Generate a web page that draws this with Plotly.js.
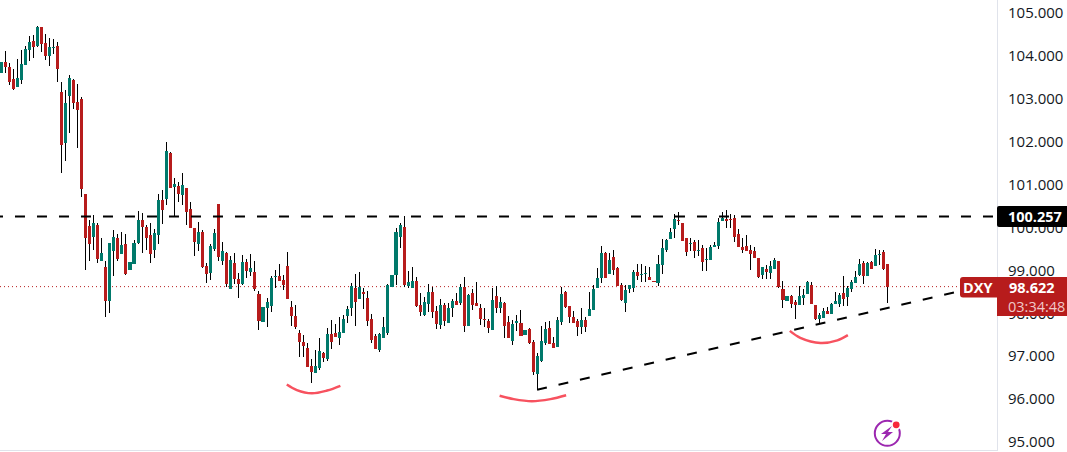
<!DOCTYPE html>
<html><head><meta charset="utf-8">
<script src="https://cdn.plot.ly/plotly-3.0.1.min.js"></script>
<style>html,body{margin:0;padding:0;background:#fff;overflow:hidden}#c{width:1067px;height:452px}</style>
</head><body><div id="c"></div>
<script>
const opens=[103.61,103.86,103.74,103.46,103.28,103.43,103.78,104.14,104.35,104.23,104.68,104.30,104.00,104.19,104.23,103.16,101.97,103.07,103.44,102.93,
103.00,100.78,100.04,99.78,100.06,99.22,99.08,98.29,99.46,99.76,99.39,99.62,99.01,99.15,99.64,100.18,100.02,99.83,99.48,99.83,
100.64,100.67,101.74,100.95,100.97,100.76,100.92,100.43,99.99,99.62,99.90,99.11,98.94,99.50,100.55,99.22,99.41,98.57,99.18,98.80,
98.68,99.20,98.96,98.96,98.45,97.80,98.12,98.17,98.85,98.87,98.78,99.10,98.15,97.94,97.54,97.33,97.19,96.77,96.61,96.72,
97.07,96.93,97.52,97.54,97.42,97.54,97.94,98.12,98.59,98.33,98.50,98.36,97.87,97.47,97.14,97.42,97.54,98.61,98.89,99.78,
100.01,98.64,98.59,98.75,98.19,97.96,98.22,98.50,98.05,97.73,98.19,97.77,98.12,98.29,98.24,98.61,97.70,98.47,98.24,98.12,
97.87,97.82,97.61,98.40,98.12,98.24,97.80,97.35,97.77,97.77,97.49,97.63,97.33,96.58,96.89,97.31,97.66,97.31,97.21,97.80,
98.50,98.17,97.91,97.82,97.68,97.84,97.94,98.08,98.59,98.82,99.40,98.92,99.31,99.06,98.66,98.24,98.57,98.59,98.96,98.89,
98.92,98.85,98.75,98.71,99.13,99.47,99.73,99.96,100.17,100.10,99.75,99.61,99.66,99.45,99.52,99.24,99.24,99.54,99.57,100.15,
100.20,100.20,100.22,99.85,99.54,99.57,99.47,99.45,99.29,98.89,99.03,98.94,99.03,99.22,98.57,98.29,98.40,98.26,98.19,98.36,
98.45,98.66,98.19,97.87,97.89,98.05,97.98,98.22,98.22,98.47,98.38,98.57,98.71,98.89,99.17,98.87,99.20,99.10,99.36,99.43,99.15];
const highs=[104.09,104.12,103.83,103.69,103.93,104.14,104.23,104.47,104.49,104.70,104.68,104.51,104.42,104.40,104.33,103.39,103.21,103.56,103.46,103.35,
103.05,100.78,100.18,100.29,100.11,99.76,99.22,99.64,99.95,99.85,99.90,99.85,99.39,99.71,100.39,100.34,100.06,100.11,99.97,100.78,
100.88,102.00,101.76,101.16,101.06,101.27,100.92,100.60,99.99,100.13,99.95,99.18,99.62,99.97,100.55,99.67,99.43,99.34,99.41,98.94,
99.36,99.27,99.38,99.22,98.52,98.59,98.36,98.87,99.01,99.15,98.89,99.43,98.29,98.19,97.61,97.49,97.31,96.93,97.14,97.42,
97.10,97.66,97.84,97.75,97.91,97.96,98.17,98.71,98.92,98.96,98.59,98.52,97.98,97.52,97.54,97.91,98.68,99.15,99.99,100.10,
100.27,98.99,99.08,98.85,98.47,98.38,98.68,98.61,98.17,98.33,98.24,98.24,98.33,98.47,98.68,98.85,98.45,98.57,98.73,98.22,
98.12,97.87,98.59,98.64,98.38,98.26,97.94,97.84,97.96,98.08,97.87,97.66,97.38,97.07,97.70,97.80,97.82,97.45,97.91,98.61,
98.52,98.17,98.05,97.87,98.12,97.91,98.50,98.66,99.06,99.57,99.43,99.40,99.47,99.08,98.71,98.66,98.66,99.01,99.15,99.15,
99.10,99.08,98.99,99.36,99.73,99.73,99.99,100.31,100.36,100.10,99.75,99.75,99.71,99.71,99.59,99.52,99.59,99.66,100.22,100.36,
100.41,100.31,100.29,99.96,99.75,99.82,99.59,99.54,99.29,99.08,99.13,99.22,99.29,99.22,98.75,98.59,98.43,98.31,98.64,98.57,
98.75,98.73,98.19,98.01,98.12,98.15,98.24,98.50,98.47,98.87,98.64,98.78,98.99,99.26,99.22,99.20,99.22,99.50,99.47,99.47,99.15];
const lows=[103.53,103.59,103.32,103.21,103.28,103.35,103.78,103.87,103.96,104.21,104.09,103.91,103.77,104.05,103.39,101.27,101.55,102.21,102.77,101.86,
100.71,99.01,99.22,99.48,99.18,99.22,97.92,98.01,98.87,99.22,99.39,98.90,98.94,99.15,99.62,99.41,99.48,99.18,99.29,99.62,
100.09,100.53,100.92,100.27,100.60,100.53,100.06,99.99,99.34,99.46,99.06,98.71,98.78,99.46,99.22,99.13,98.62,98.57,98.69,98.36,
98.66,98.82,98.87,98.52,97.61,97.61,97.68,98.03,98.59,98.75,98.54,98.33,97.70,97.63,96.98,96.98,96.75,96.37,96.61,96.68,
96.86,96.89,97.17,97.45,97.26,97.54,97.77,97.94,97.70,98.33,98.10,97.70,97.31,97.17,97.10,97.42,97.49,98.59,98.66,99.52,
98.61,98.59,98.59,98.15,97.94,97.94,98.03,97.89,97.63,97.63,97.70,97.77,97.91,98.19,98.19,97.56,97.70,98.08,98.17,97.73,
97.68,97.54,97.61,98.01,98.01,97.42,97.42,97.26,97.59,97.47,97.49,97.28,96.56,96.21,96.86,97.26,97.28,97.19,97.21,97.73,
98.12,97.77,97.77,97.47,97.52,97.56,97.94,98.08,98.59,98.71,98.82,98.92,98.89,98.64,98.29,98.03,98.47,98.50,98.78,98.73,
98.73,98.78,98.57,98.64,98.92,99.43,99.73,99.75,100.06,99.68,99.33,99.45,99.29,99.33,98.99,98.99,99.24,99.54,99.50,100.15,
99.99,99.99,99.66,99.54,99.40,99.45,99.01,99.29,98.82,98.80,98.80,98.80,99.03,98.59,98.12,98.29,98.12,97.87,98.19,98.19,
98.45,98.22,97.84,97.75,97.89,97.98,97.98,98.22,98.15,98.17,98.17,98.50,98.71,98.87,98.68,98.87,99.03,99.10,99.13,99.01,98.24];
const closes=[103.86,103.73,103.40,103.23,103.49,103.81,104.16,104.33,104.21,104.68,104.28,104.00,104.21,104.21,103.70,101.93,102.91,103.49,102.91,102.74,
100.90,99.76,99.62,100.11,99.27,99.41,98.29,99.64,99.78,99.27,99.60,98.92,99.20,99.64,100.18,100.02,99.76,99.39,99.88,100.64,
100.41,101.79,100.92,101.02,100.78,100.99,100.36,99.99,99.67,99.90,99.08,98.92,99.57,99.88,99.32,99.46,98.69,99.25,98.80,98.69,
99.20,98.99,99.06,98.57,97.82,98.15,98.26,98.82,98.87,98.75,98.66,98.33,97.94,97.68,97.33,97.24,96.75,96.63,96.77,97.12,
96.96,97.52,97.33,97.45,97.56,97.87,98.10,98.64,98.26,98.61,98.45,97.82,97.38,97.17,97.52,97.68,98.66,98.89,99.89,100.06,
98.66,98.73,98.75,98.17,98.03,98.26,98.50,98.03,97.75,98.19,97.82,98.12,98.29,98.19,98.61,97.70,98.43,98.19,98.17,97.87,
97.84,97.66,98.31,98.12,98.26,97.70,97.42,97.75,97.82,97.47,97.61,97.31,96.63,97.00,97.35,97.63,97.28,97.19,97.84,98.45,
98.15,97.91,97.77,97.68,97.84,97.68,98.10,98.57,98.82,99.40,98.82,99.24,99.01,98.64,98.31,98.54,98.66,98.96,98.87,98.92,
98.94,98.78,98.73,99.15,99.52,99.71,99.89,100.20,100.15,99.68,99.43,99.64,99.45,99.47,99.20,99.26,99.54,99.59,100.13,100.22,
100.15,100.17,99.78,99.54,99.47,99.45,99.38,99.29,98.85,99.08,98.96,99.10,99.24,98.61,98.31,98.40,98.22,98.19,98.40,98.43,
98.73,98.22,97.87,97.96,98.05,97.98,98.22,98.29,98.43,98.33,98.59,98.73,98.85,99.15,98.87,99.17,99.03,99.36,99.38,99.03,98.62];
const priceTicks=[95,96,97,98,99,100,101,102,103,104,105];
const supportLevel=100.257, lastPrice=98.622, symbol="DXY", countdown="03:34:48";
const trendX=[133,237.55], trendY=[96.22,98.51];
const arc1X=[70.9,73.4,77.1,80.9,84.2], arc1Y=[96.34,96.21,96.135,96.20,96.31];
const arc2X=[123.7,127.2,131.7,136.3,140.2], arc2Y=[96.08,96.00,95.95,96.00,96.09];
const arc3X=[195.7,198.3,203.3,207.5,210.1], arc3Y=[97.59,97.43,97.31,97.37,97.49];

const GREEN="#00796b", RED="#b71c1c", CORAL="#f7525f", W=997, H=450;
const idx=opens.map((_,i)=>i);
const fx=x=>x/W, fy=y=>1-y/H;
const arcTrace=(x,y)=>({type:"scatter",mode:"lines",x,y,line:{color:CORAL,width:2.5,shape:"spline",smoothing:1},hoverinfo:"skip"});
const hDash=(y)=>({type:"scatter",mode:"lines",x:[-1.99,248],y:[y,y],line:{color:"#000",width:2,dash:"10px,12px"},hoverinfo:"skip"});
const traces=[
 {type:"bar",x:idx,base:lows,y:highs.map((h,i)=>h-lows[i]),width:0.24,marker:{color:"#000",line:{width:0}},hoverinfo:"skip"},
 {type:"bar",x:idx,base:opens.map((o,i)=>Math.min(o,closes[i])),
  y:opens.map((o,i)=>Math.max(Math.abs(o-closes[i]),0.02)),width:0.76,
  marker:{color:opens.map((o,i)=>closes[i]>=o?GREEN:RED),line:{width:0}},hoverinfo:"skip"},
 hDash(supportLevel),
 {type:"scatter",mode:"lines",x:trendX,y:trendY,line:{color:"#000",width:2,dash:"10px,12px"},hoverinfo:"skip"},
 arcTrace(arc1X,arc1Y),arcTrace(arc2X,arc2Y),arcTrace(arc3X,arc3Y)
];
const roundLeft=(x0,x1,y0,y1,r,fill)=>({type:"path",xref:"paper",yref:"paper",layer:"above",line:{width:0},fillcolor:fill,
  path:`M${fx(x1)},${fy(y0)}L${fx(x0+r)},${fy(y0)}Q${fx(x0)},${fy(y0)} ${fx(x0)},${fy(y0+r)}L${fx(x0)},${fy(y1-r)}Q${fx(x0)},${fy(y1)} ${fx(x0+r)},${fy(y1)}L${fx(x1)},${fy(y1)}Z`});
const circ=(cx,cy,r,fill,line,lw)=>({type:"circle",xref:"paper",yref:"paper",layer:"above",x0:fx(cx-r),x1:fx(cx+r),y0:fy(cy+r),y1:fy(cy-r),fillcolor:fill,line:{color:line,width:lw}});
const bolt=[[892,426],[881,434],[886,434],[882,441],[893,432],[888,432]];
const shapes=[
 {type:"line",xref:"paper",yref:"y",x0:0,x1:fx(960),y0:lastPrice,y1:lastPrice,layer:"below",line:{color:RED,width:1,dash:"1px,3px"}},
 roundLeft(997,1067,206,227,2,"#000"),
 {type:"rect",xref:"paper",yref:"paper",layer:"above",x0:fx(997),x1:fx(1067),y0:fy(316),y1:fy(277),fillcolor:RED,line:{width:0}},
 roundLeft(960,997,277,297.5,3,RED),
 circ(887.3,433.3,12.5,"rgba(0,0,0,0)","#9c27b0",2),
 circ(896.2,424.8,5.2,"#fff","#fff",0),
 circ(896.2,424.8,3.4,"#f7283c","#f7283c",0),
 {type:"path",xref:"paper",yref:"paper",layer:"above",line:{width:0},fillcolor:"#9c27b0",
  path:"M"+bolt.map(p=>fx(p[0])+","+fy(p[1])).join("L")+"Z"}
];
const FONT='"Open Sans",sans-serif';
const note=(text,x,y,size,color,bold,anchor)=>({xref:"paper",yref:"paper",x:fx(x),y:fy(y),xanchor:anchor||"center",yanchor:"middle",showarrow:false,
  borderpad:0,text:bold?`<b>${text}</b>`:text,font:{family:FONT,size,color}});
const annotations=[
 note(supportLevel.toFixed(3),1035,216.5,14.5,"#fff",true),
 note(symbol,977.5,287.5,14.5,"#fff",true),
 note(lastPrice.toFixed(3),1008,287.5,14.5,"#fff",true,"left"),
 note(countdown,1007,306,14.5,"#f0c8c8",false,"left")
];
const layout={width:1067,height:452,margin:{l:0,r:70,t:0,b:2,pad:0},paper_bgcolor:"#fff",plot_bgcolor:"#fff",
 showlegend:false,barmode:"overlay",bargap:0,shapes,annotations,hovermode:false,
 xaxis:{range:[-0.25,247.1],showgrid:false,zeroline:false,showticklabels:false,ticks:"",showline:true,linecolor:"#e0e3eb",linewidth:1,fixedrange:true},
 yaxis:{range:[94.814,105.303],side:"right",showgrid:false,zeroline:false,tickvals:priceTicks,ticktext:priceTicks.map(v=>v.toFixed(3)),ticks:"",
  ticklabelstandoff:7,showline:true,linecolor:"#e0e3eb",linewidth:1,fixedrange:true,tickfont:{family:FONT,size:15,color:"#131722"}}
};
Plotly.newPlot("c",traces,layout,{displayModeBar:false,staticPlot:true});
</script></body></html>
